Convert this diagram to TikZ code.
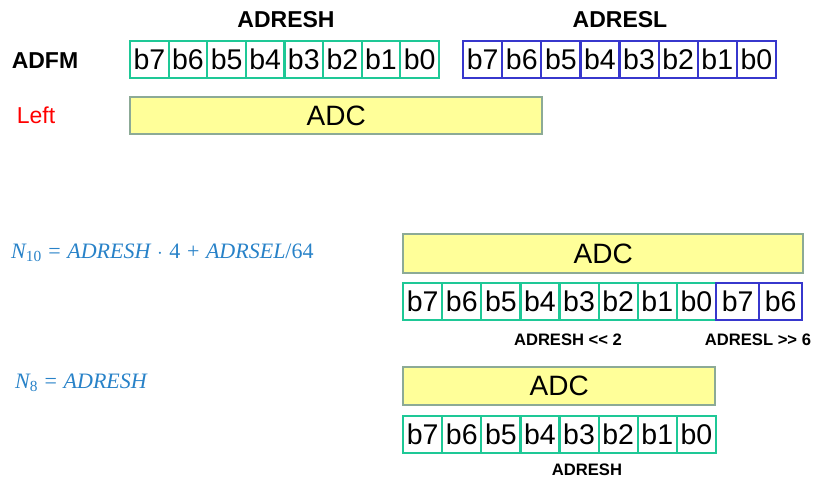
\documentclass[tikz,border=0pt]{standalone}
\usepackage{fontspec}
\setmainfont{Liberation Sans}
\newfontfamily\formfont{Liberation Serif}
\definecolor{cellgreen}{RGB}{30,200,150}
\definecolor{cellblue}{RGB}{55,55,205}
\definecolor{adcfill}{RGB}{255,255,153}
\definecolor{adcdraw}{RGB}{140,170,150}
\definecolor{formblue}{RGB}{40,130,200}
\definecolor{leftred}{RGB}{255,0,0}
\newcommand{\opgap}{\hspace{0.3em}}
\begin{document}
\begin{tikzpicture}[x=1pt,y=-1pt,
 bitcell/.style={draw, line width=2.2pt, minimum width=39.1pt, minimum height=37pt, inner sep=0pt, font=\fontsize{28.5}{28}\selectfont, anchor=north west},
 hcell/.style={bitcell, draw=cellgreen},
 lcell/.style={bitcell, draw=cellblue},
 adcbox/.style={draw=adcdraw, fill=adcfill, line width=2.4pt, inner sep=0pt, anchor=north west, font=\fontsize{28}{28}\selectfont},
 reglabel/.style={font=\bfseries\fontsize{23}{23}\selectfont},
 shiftlabel/.style={font=\bfseries\fontsize{16.6}{17}\selectfont},
 formula/.style={text=formblue, font=\formfont\itshape\fontsize{22}{22}\selectfont, anchor=west, inner sep=0pt}]
\useasboundingbox (0,0) rectangle (814,479);

% top register labels
\node[reglabel] (lblH) at (286,20) {ADRESH};
\node[reglabel] (lblL) at (620,20) {ADRESL};
\node[reglabel] (lblADFM) at (45,61) {ADFM};
\node[text=leftred, font=\fontsize{23}{23}\selectfont] (lblLeft) at (36,115) {Left};

% top ADRESH cells
\foreach \i in {0,...,7}{
  \pgfmathtruncatemacro{\b}{7-\i}
  \node[hcell, minimum width=38.6pt] (th\i) at ({129+\i*38.6},40) {b\b};
}
% top ADRESL cells
\foreach \i in {0,...,7}{
  \pgfmathtruncatemacro{\b}{7-\i}
  \node[lcell] (tl\i) at ({462+\i*39.1},40) {b\b};
}
\node[adcbox, minimum width=412pt, minimum height=37pt] (adc1) at (129,96) {ADC};

% formulas
\node[formula] (f10) at (11,253) {N\textsubscript{\upshape 10}\opgap{\upshape =}\opgap ADRESH\opgap{\upshape $\cdot$}\opgap{\upshape 4}\opgap{\upshape +}\opgap ADRSEL{\upshape /64}};
\node[formula] (f8) at (15,383) {N\textsubscript{\upshape 8}\opgap{\upshape =}\opgap ADRESH};

% middle: 10-bit
\node[adcbox, minimum width=400pt, minimum height=39pt] (adc2) at (402,233) {ADC};
\foreach \i in {0,...,7}{
  \pgfmathtruncatemacro{\b}{7-\i}
  \node[hcell] (mh\i) at ({402+\i*39.1},282) {b\b};
}
\node[lcell, minimum width=43pt] (ml0) at (715,282) {b7};
\node[lcell, minimum width=43pt] (ml1) at (758,282) {b6};
\node[shiftlabel] (shH) at (568,340) {ADRESH {<}{<} 2};
\node[shiftlabel] (shL) at (758,340) {ADRESL {>}{>} 6};

% bottom: 8-bit
\node[adcbox, minimum width=312pt, minimum height=38pt] (adc3) at (402,366) {ADC};
\foreach \i in {0,...,7}{
  \pgfmathtruncatemacro{\b}{7-\i}
  \node[hcell] (bh\i) at ({402+\i*39.1},415) {b\b};
}
\node[shiftlabel] (shB) at (587,470) {ADRESH};
\end{tikzpicture}
\end{document}
